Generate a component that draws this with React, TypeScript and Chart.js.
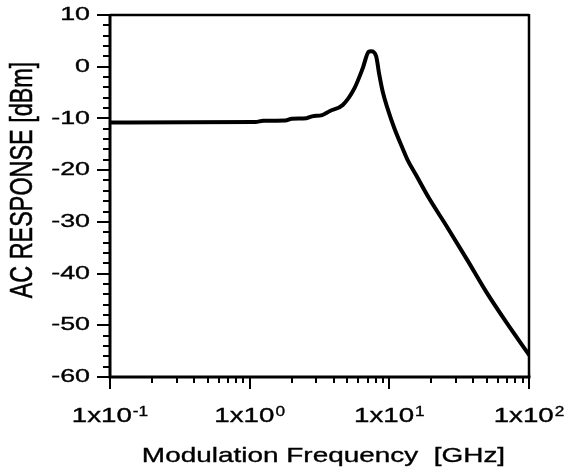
import React, { useEffect, useRef } from "react";
import { Chart, registerables } from "chart.js";

Chart.register(...registerables);

// ---- data ----
const frequencyGHz = [
  0.1, 1.1, 1.25, 1.8, 2.0, 2.55, 2.8, 3.3, 3.73, 4.64, 5.62, 6.45, 7.11, 7.4, 8.03, 8.48,
  8.96, 9.72, 10.86, 12.45, 13.5, 15.5, 19.3, 25.4, 36.2, 49.3, 68.3, 100,
];
const acResponseDbm = [
  -10.8, -10.7, -10.45, -10.4, -10.05, -9.95, -9.6, -9.35, -8.6, -7.4, -4.2, -0.3, 2.9, 3.0, 2.1, -1.6,
  -4.8, -8.1, -11.9, -15.8, -18.0, -20.9, -25.5, -30.6, -37.4, -43.5, -49.3, -55.7,
];

const xMin = 0.1;
const xMax = 100;
const yMin = -60;
const yMax = 10;
const xTickValues = [0.1, 1, 10, 100];
const xTickMantissa = "1x10";
const xTickExponents = ["-1", "0", "1", "2"];
const xMinorMultipliers = [2, 3, 4, 5, 6, 7, 8, 9];
const yTickValues = [10, 0, -10, -20, -30, -40, -50, -60];
const yMinorStep = 2;
const xTitle = "Modulation Frequency  [GHz]";
const yTitle = "AC RESPONSE [dBm]";

const FONT = '"Liberation Sans", Arial, Helvetica, sans-serif';

function drawText(
  ctx: CanvasRenderingContext2D,
  text: string,
  x: number,
  y: number,
  size: number,
  sx: number,
  sy: number,
  align: CanvasTextAlign,
  baseline: CanvasTextBaseline,
  rot = 0
) {
  ctx.save();
  ctx.translate(x, y);
  if (rot) ctx.rotate(rot);
  ctx.scale(sx, sy);
  ctx.font = `${size}px ${FONT}`;
  ctx.textAlign = align;
  ctx.textBaseline = baseline;
  ctx.fillText(text, 0, 0);
  ctx.lineWidth = 0.35;
  ctx.strokeText(text, 0, 0);
  ctx.restore();
}

const axesPlugin = {
  id: "axesPlugin",
  afterDraw(chart: any) {
    const { ctx, chartArea: a, scales } = chart;
    const xs = scales.x;
    const ys = scales.y;
    ctx.save();
    ctx.strokeStyle = "#000";
    ctx.fillStyle = "#000";
    ctx.lineCap = "butt";

    // frame: top & right thinner, left & bottom thicker
    ctx.lineWidth = 2.5;
    ctx.beginPath();
    ctx.moveTo(a.left, a.top);
    ctx.lineTo(a.right, a.top);
    ctx.moveTo(a.right, a.top - 1);
    ctx.lineTo(a.right, a.bottom);
    ctx.stroke();
    ctx.lineWidth = 3;
    ctx.beginPath();
    ctx.moveTo(a.left, a.top - 1);
    ctx.lineTo(a.left, a.bottom + 1.5);
    ctx.moveTo(a.left - 1.5, a.bottom);
    ctx.lineTo(a.right + 1.5, a.bottom);
    ctx.stroke();

    // y ticks
    ctx.lineWidth = 2;
    ctx.beginPath();
    for (let v = yMin; v <= yMax + 1e-9; v += yMinorStep) {
      const py = Math.round(ys.getPixelForValue(v));
      const major = yTickValues.includes(v);
      ctx.moveTo(a.left - (major ? 13 : 7), py);
      ctx.lineTo(a.left, py);
    }
    // x ticks
    for (const d of xTickValues) {
      const px = Math.round(xs.getPixelForValue(d));
      ctx.moveTo(px, a.bottom);
      ctx.lineTo(px, a.bottom + 12);
      if (d < xMax) {
        for (const m of xMinorMultipliers) {
          const mx = Math.round(xs.getPixelForValue(d * m));
          ctx.moveTo(mx, a.bottom);
          ctx.lineTo(mx, a.bottom + 6);
        }
      }
    }
    ctx.stroke();

    // y tick labels
    for (const v of yTickValues) {
      const py = ys.getPixelForValue(v);
      drawText(ctx, String(v), a.left - 20, py, 18.5, 1.45, 1, "right", "middle");
    }

    // x tick labels with superscript exponents
    const mainSize = 19.5;
    const mainSx = 1.42;
    const supSize = 15;
    const supSx = 1.15;
    xTickValues.forEach((v, i) => {
      const px = xs.getPixelForValue(v);
      ctx.font = `${mainSize}px ${FONT}`;
      const w1 = ctx.measureText(xTickMantissa).width * mainSx;
      ctx.font = `${supSize}px ${FONT}`;
      const w2 = ctx.measureText(xTickExponents[i]).width * supSx;
      const start = px - (w1 + w2 + 1) / 2;
      drawText(ctx, xTickMantissa, start, a.bottom + 45, mainSize, mainSx, 1, "left", "alphabetic");
      drawText(ctx, xTickExponents[i], start + w1 + 1, a.bottom + 39, supSize, supSx, 1, "left", "alphabetic");
    });

    // axis titles
    drawText(ctx, xTitle, (a.left + a.right) / 2 + 4, a.bottom + 85, 21, 1.33, 1, "center", "alphabetic");
    drawText(ctx, yTitle, 31.5, (a.top + a.bottom) / 2 - 16, 20, 1.17, 1.55, "center", "alphabetic", -Math.PI / 2);

    ctx.restore();
  },
};

export default function App() {
  const canvasRef = useRef<HTMLCanvasElement | null>(null);

  useEffect(() => {
    if (!canvasRef.current) return;
    const points = frequencyGHz.map((f, i) => ({ x: f, y: acResponseDbm[i] }));
    const chart = new Chart(canvasRef.current, {
      type: "line",
      data: {
        datasets: [
          {
            data: points,
            borderColor: "#000",
            borderWidth: 4,
            pointRadius: 0,
            cubicInterpolationMode: "monotone",
            borderJoinStyle: "round",
            borderCapStyle: "round",
            fill: false,
          },
        ],
      },
      options: {
        animation: false,
        responsive: true,
        maintainAspectRatio: false,
        layout: { padding: { top: 15, right: 36, left: 0, bottom: 0 } },
        plugins: { legend: { display: false }, tooltip: { enabled: false } },
        scales: {
          x: {
            type: "logarithmic",
            min: xMin,
            max: xMax,
            grid: { display: false, drawTicks: false },
            border: { display: false },
            ticks: { display: false },
            afterFit: (s: any) => {
              s.height = 93;
            },
          },
          y: {
            type: "linear",
            min: yMin,
            max: yMax,
            grid: { display: false, drawTicks: false },
            border: { display: false },
            ticks: { display: false },
            afterFit: (s: any) => {
              s.width = 110;
            },
          },
        },
      } as any,
      plugins: [axesPlugin],
    });
    return () => chart.destroy();
  }, []);

  return (
    <div style={{ position: "absolute", left: 0, top: 0, width: 565, height: 470, background: "#fff" }}>
      <canvas ref={canvasRef} />
    </div>
  );
}
